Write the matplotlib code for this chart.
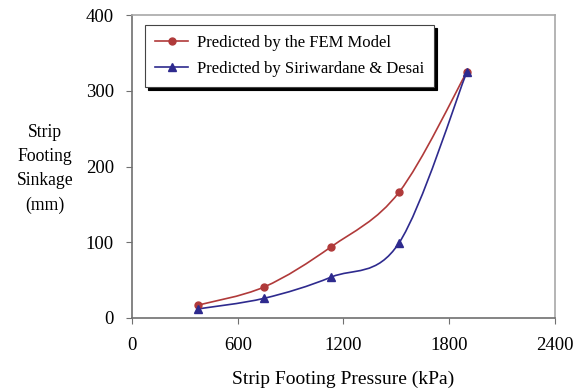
import numpy as np
import matplotlib.pyplot as plt
from matplotlib.path import Path
from matplotlib.patches import PathPatch
from matplotlib.lines import Line2D

pressure = [375, 750, 1130, 1515, 1900]
fem_sinkage = [17, 41, 94, 166, 325]
siri_sinkage = [12, 26, 54, 99, 325]

x_ticks = [0, 600, 1200, 1800, 2400]
y_ticks = [0, 100, 200, 300, 400]

plt.rcParams['font.family'] = ['Liberation Serif', 'DejaVu Serif']


def smooth_path(xs, ys, tension=1/6):
    # excel-ish smoothed line: catmull-rom turned into cubic bezier segments
    pts = np.column_stack([xs, ys]).astype(float)
    verts = [pts[0]]
    codes = [Path.MOVETO]
    n = len(pts)
    for i in range(n - 1):
        p0 = pts[max(i - 1, 0)]
        p1 = pts[i]
        p2 = pts[i + 1]
        p3 = pts[min(i + 2, n - 1)]
        c1 = p1 + (p2 - p0) * tension
        c2 = p2 - (p3 - p1) * tension
        verts += [c1, c2, p2]
        codes += [Path.CURVE4] * 3
    return Path(verts, codes)


fig = plt.figure(figsize=(5.76, 3.92), dpi=100)
ax = fig.add_axes([0.2292, 0.1888, 0.7343, 0.7729])

red = '#b03a3a'
blue = '#2e2a8e'

ax.add_patch(PathPatch(smooth_path(pressure, fem_sinkage), fc='none', ec=red, lw=1.2))
ax.add_patch(PathPatch(smooth_path(pressure, siri_sinkage), fc='none', ec=blue, lw=1.2))
ax.plot(pressure, fem_sinkage, 'o', color=red, ms=5, ls='none')
ax.plot(pressure, siri_sinkage, '^', color=blue, ms=6, ls='none')

ax.set_xlim(0, 2400)
ax.set_ylim(0, 400)
ax.set_xticks(x_ticks)
ax.set_yticks(y_ticks)
ax.tick_params(labelsize=13.5, length=4, color='#707070')
ax.tick_params(axis='x', pad=10)
ax.tick_params(axis='y', pad=9)

for s in ['left', 'bottom']:
    ax.spines[s].set_color('#707070')
    ax.spines[s].set_linewidth(1.2)
for s in ['top', 'right']:
    ax.spines[s].set_color('#a8a8a8')
    ax.spines[s].set_linewidth(1.2)

ax.set_xlabel('Strip Footing Pressure (kPa)', fontsize=14, labelpad=12)
fig.text(0.078, 0.569, 'Strip\nFooting\nSinkage\n(mm)', fontsize=12.7,
         ha='center', va='center', linespacing=1.55)

handles = [Line2D([], [], color=red, marker='o', ms=5, lw=1.2),
           Line2D([], [], color=blue, marker='^', ms=6, lw=1.2)]
leg = ax.legend(handles, ['Predicted by the FEM Model', 'Predicted by Siriwardane & Desai'],
                loc='upper left', bbox_to_anchor=(0.031, 0.967), borderaxespad=0,
                fontsize=12, fancybox=False, shadow={'color': 'black', 'alpha': 1},
                framealpha=1, edgecolor='#444444', handlelength=2.0, handletextpad=0.5,
                borderpad=0.6, labelspacing=0.6)
leg.get_frame().set_linewidth(0.8)

fig.savefig('out.png', dpi=100)
